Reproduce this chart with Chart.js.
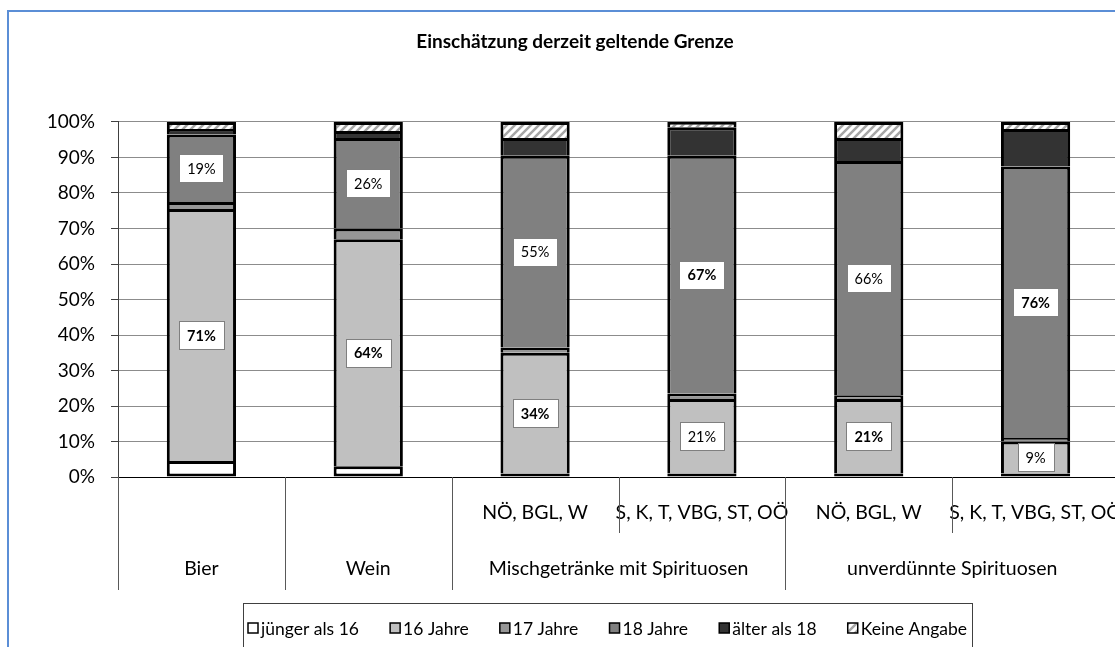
<!DOCTYPE html>
<html>
<head>
<meta charset="utf-8">
<script src="https://cdn.jsdelivr.net/npm/chart.js@4.4.0/dist/chart.umd.min.js"></script>
<style>
  html, body { margin: 0; padding: 0; background: #fff; overflow: hidden; }
  canvas { position: absolute; left: 0; top: 0; }
</style>
</head>
<body>
<canvas id="chart" width="1140" height="660"></canvas>
<script>
// category axis, two levels
const regions = ['', '', 'NÖ, BGL, W', 'S, K, T, VBG, ST, OÖ', 'NÖ, BGL, W', 'S, K, T, VBG, ST, OÖ'];
const groups = ['Bier', 'Wein', 'Mischgetränke mit Spirituosen', 'Mischgetränke mit Spirituosen',
  'unverdünnte Spirituosen', 'unverdünnte Spirituosen'];

const seriesNames = ['jünger als 16', '16 Jahre', '17 Jahre', '18 Jahre', 'älter als 18', 'Keine Angabe'];

// shares in %
const under16 = [4.5, 3, 1, 1, 1, 1];
const age16 = [71, 64, 34, 21, 21, 9];
const age17 = [2, 3, 1.5, 1.5, 1, 1];
const age18 = [19, 25.5, 54, 67, 66, 76.5];
const over18 = [1.5, 2, 5, 8, 6.5, 10.5];
const noAnswer = [2, 2.5, 4.5, 1.5, 4.5, 2];

// printed value labels
const labels16 = ['71%', '64%', '34%', '21%', '21%', '9%'];
const labels18 = ['19%', '26%', '55%', '67%', '66%', '76%'];
const bold16 = [true, true, true, false, true, false];
const bold18 = [false, false, false, true, false, true];

const FONT = 'Lato';

function makeHatch() {
  const c = document.createElement('canvas');
  c.width = 8; c.height = 8;
  const g = c.getContext('2d');
  g.fillStyle = '#fff';
  g.fillRect(0, 0, 8, 8);
  g.strokeStyle = '#a6a6a6';
  g.lineWidth = 2.5;
  g.beginPath();
  g.moveTo(0, 8); g.lineTo(8, 0);
  g.moveTo(-4, 4); g.lineTo(4, -4);
  g.moveTo(4, 12); g.lineTo(12, 4);
  g.stroke();
  return g.createPattern(c, 'repeat');
}

const fills = ['#ffffff', '#c0c0c0', '#969696', '#808080', '#333333', makeHatch()];
const values = [under16, age16, age17, age18, over18, noAnswer];

function drawTag(ctx, el, text, bold) {
  const cx = el.x;
  const cy = (el.y + el.base) / 2;
  ctx.font = (bold ? 'bold ' : '') + '14.5px ' + FONT;
  const w = Math.round(ctx.measureText(text).width + 16);
  const h = 28;
  const x0 = Math.round(cx - w / 2) + 0.5;
  const y0 = Math.round(cy - h / 2) + 0.5;
  ctx.fillStyle = '#fff';
  ctx.fillRect(x0, y0, w, h);
  ctx.strokeStyle = '#7f7f7f';
  ctx.lineWidth = 1;
  ctx.strokeRect(x0, y0, w, h);
  ctx.fillStyle = '#000';
  ctx.textAlign = 'center';
  ctx.textBaseline = 'middle';
  ctx.fillText(text, cx, cy + 1);
}

const decor = {
  id: 'decor',
  beforeDraw(chart) {
    const ctx = chart.ctx;
    ctx.save();
    ctx.fillStyle = '#fff';
    ctx.fillRect(0, 0, chart.width, chart.height);
    ctx.strokeStyle = '#5b8ed6';
    ctx.lineWidth = 2;
    ctx.strokeRect(8, 11, 1300, 800);
    ctx.restore();
  },
  afterDatasetsDraw(chart) {
    const ctx = chart.ctx;
    ctx.save();
    const m16 = chart.getDatasetMeta(1).data;
    const m18 = chart.getDatasetMeta(3).data;
    labels16.forEach((t, i) => drawTag(ctx, m16[i], t, bold16[i]));
    labels18.forEach((t, i) => drawTag(ctx, m18[i], t, bold18[i]));
    ctx.restore();
  },
  afterDraw(chart) {
    const ctx = chart.ctx;
    const xs = chart.scales.x;
    const area = chart.chartArea;
    const half = (xs.getPixelForValue(1) - xs.getPixelForValue(0)) / 2;
    const bottomLong = area.bottom + 113;
    const bottomShort = area.bottom + 56;
    ctx.save();
    ctx.strokeStyle = '#595959';
    ctx.lineWidth = 1;
    const vline = (x, y1) => {
      const px = Math.round(x) + 0.5;
      ctx.beginPath();
      ctx.moveTo(px, area.bottom);
      ctx.lineTo(px, y1);
      ctx.stroke();
    };
    ctx.fillStyle = '#000';
    ctx.textAlign = 'center';
    ctx.textBaseline = 'middle';
    ctx.font = '19.5px ' + FONT;
    regions.forEach((r, i) => {
      if (r) ctx.fillText(r, xs.getPixelForValue(i), area.bottom + 36);
    });
    let i = 0;
    while (i < groups.length) {
      let j = i;
      while (j + 1 < groups.length && groups[j + 1] === groups[i]) j++;
      const x0 = xs.getPixelForValue(i) - half;
      const x1 = xs.getPixelForValue(j) + half;
      ctx.fillText(groups[i], (x0 + x1) / 2, area.bottom + 92);
      vline(x0, bottomLong);
      for (let k = i + 1; k <= j; k++) vline(xs.getPixelForValue(k) - half, bottomShort);
      if (j === groups.length - 1) vline(x1, bottomLong);
      i = j + 1;
    }

    // legend box
    const lx0 = 243, lx1 = 972, ly = 603, cy = 628;
    ctx.strokeStyle = '#404040';
    ctx.strokeRect(lx0 + 0.5, ly + 0.5, lx1 - lx0, 80);
    ctx.font = '17.5px ' + FONT;
    ctx.textAlign = 'left';
    const box = 10, gapIn = 3;
    const widths = seriesNames.map(n => box + gapIn + ctx.measureText(n).width);
    const total = widths.reduce((a, b) => a + b, 0);
    const gap = (lx1 - lx0 - 10 - total) / (seriesNames.length - 1);
    let x = lx0 + 5;
    seriesNames.forEach((n, k) => {
      ctx.fillStyle = fills[k];
      ctx.fillRect(x, cy - box / 2, box, box);
      ctx.strokeStyle = '#000';
      ctx.lineWidth = 1.5;
      ctx.strokeRect(x, cy - box / 2, box, box);
      ctx.fillStyle = '#000';
      ctx.fillText(n, x + box + gapIn, cy + 1);
      x += widths[k] + gap;
    });
    ctx.restore();
  }
};

new Chart(document.getElementById('chart'), {
  type: 'bar',
  data: {
    labels: groups.map((g, i) => (regions[i] ? [regions[i], g] : g)),
    datasets: seriesNames.map((name, k) => ({
      label: name,
      data: values[k],
      backgroundColor: fills[k],
      borderColor: '#000',
      borderWidth: 3,
      borderSkipped: k === 0 ? false : 'start',
      barPercentage: 0.415,
      categoryPercentage: 1
    }))
  },
  options: {
    responsive: false,
    animation: false,
    layout: { padding: { left: 31, right: 21, top: 0, bottom: 0 } },
    plugins: {
      legend: { display: false },
      tooltip: { enabled: false },
      title: {
        display: true,
        text: 'Einschätzung derzeit geltende Grenze',
        color: '#000',
        font: { family: FONT, size: 19, weight: 'bold' },
        padding: { top: 30.6, bottom: 68.6 }
      }
    },
    scales: {
      x: {
        stacked: true,
        ticks: { display: false },
        grid: { display: false },
        border: { display: true, color: '#000' },
        afterFit: s => { s.height = 183; }
      },
      y: {
        stacked: true,
        min: 0,
        max: 100,
        ticks: {
          stepSize: 10,
          callback: v => v + '%',
          color: '#000',
          font: { family: FONT, size: 19 },
          padding: 16
        },
        grid: { color: '#8c8c8c', tickColor: '#404040', tickLength: 7 },
        border: { color: '#404040' },
        afterFit: s => { s.width = 87; }
      }
    }
  },
  plugins: [decor]
});
</script>
</body>
</html>
